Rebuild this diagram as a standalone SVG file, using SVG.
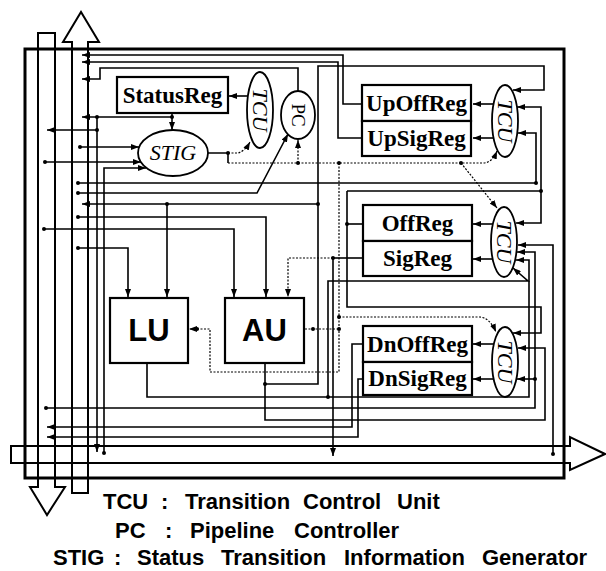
<svg xmlns="http://www.w3.org/2000/svg" width="606" height="571" viewBox="0 0 606 571">
<defs>
<marker id="ah" viewBox="0 0 8 6" refX="8" refY="3" markerWidth="8" markerHeight="6" markerUnits="userSpaceOnUse" orient="auto"><path d="M0,0 L8,3 L0,6 z" fill="#000"/></marker>
</defs>
<style>
.box{fill:#fff;stroke:#000;stroke-width:2.2}
.ell{fill:#fff;stroke:#000;stroke-width:1.8}
.ln{fill:none;stroke:#000;stroke-width:1.6}
.dt{fill:none;stroke:#000;stroke-width:1.2;stroke-dasharray:2 1.5}
.bus{fill:none;stroke:#000;stroke-width:2}
.frame{fill:none;stroke:#000;stroke-width:3}
.d{fill:#000}
.reg{font-family:"Liberation Serif",serif;font-weight:bold;font-size:23px;text-anchor:middle}
.it{font-family:"Liberation Serif",serif;font-style:italic;font-size:22px;text-anchor:middle}
.pc{font-family:"Liberation Serif",serif;font-size:19px;text-anchor:middle}
.unit{font-family:"Liberation Sans",Arial,sans-serif;font-weight:bold;font-size:31px;text-anchor:middle}
.lg{font-family:"Liberation Sans",Arial,sans-serif;font-weight:bold;font-size:22px}
</style>

<rect class="frame" x="25" y="49" width="539" height="429"/>

<g id="buses">
<path class="bus" d="M38,487 V33 H55 V487 H65 L47,515 L30,487 Z"/>
<path class="bus" d="M72,493 V42 H63 L81,12 L99,42 H88 V493 Z"/>
<path class="bus" d="M11,446 H570 V437 L605,454 L570,470 V463 H11 Z"/>
</g>

<g id="connectors">
<path class="ln" d="M362,104 H343 V55 H82" marker-end="url(#ah)"/>
<path class="ln" d="M362,138 H338 V62 H82" marker-end="url(#ah)"/>
<path class="ln" d="M298,91 V68 H100 V79 H82" marker-end="url(#ah)"/>
<path class="ln" d="M172,113 V117 H82" marker-end="url(#ah)"/>
<path class="ln" d="M172,117 V130" marker-end="url(#ah)"/>
<path class="ln" d="M97,117 V452" marker-end="url(#ah)"/>
<path class="ln" d="M97,130 H47" marker-end="url(#ah)"/>
<path class="ln" d="M80,147 H139" marker-end="url(#ah)"/>
<path class="ln" d="M45,162 H141" marker-end="url(#ah)"/>
<path class="ln" d="M104,453 V168 H146" marker-end="url(#ah)"/>
<path class="ln" d="M248,96 H229" marker-end="url(#ah)"/>
<path class="ln" d="M208,153 H228 V163"/>
<path class="dt" d="M228,153 H238 Q245,151 250,142" marker-end="url(#ah)"/>
<path class="dt" d="M228,163 H483 Q492,163 497,151" marker-end="url(#ah)"/>
<path class="dt" d="M298,163 V140" marker-end="url(#ah)"/>
<path class="dt" d="M461,163 L497,208" marker-end="url(#ah)"/>
<path class="ln" d="M78,193 H257 L288,134" marker-end="url(#ah)"/>
<path class="ln" d="M78,183 H536 V133 H518" marker-end="url(#ah)"/>
<path class="ln" d="M265,363 V420 H545 V348 H518" marker-end="url(#ah)"/>
<path class="ln" d="M265,384 H318 V66 H544 V90 H513" marker-end="url(#ah)"/>
<path class="ln" d="M318,204 H82" marker-end="url(#ah)"/>
<path class="ln" d="M167,204 V297" marker-end="url(#ah)"/>
<path class="ln" d="M78,217 H266 V297" marker-end="url(#ah)"/>
<path class="ln" d="M44,229 H234 V297" marker-end="url(#ah)"/>
<path class="ln" d="M78,248 H128 V297" marker-end="url(#ah)"/>
<path class="ln" d="M363,258 H333"/>
<path class="dt" d="M333,258 H288 V297" marker-end="url(#ah)"/>
<path class="ln" d="M333,258 V456" marker-end="url(#ah)"/>
<path class="ln" d="M363,224 H347"/>
<path class="ln" d="M347,191 V307 H541 V333 H513" marker-end="url(#ah)"/>
<path class="ln" d="M347,191 H541 V107 H517" marker-end="url(#ah)"/>
<path class="ln" d="M541,191 V223 H516" marker-end="url(#ah)"/>
<path class="ln" d="M553,454 V245 H518" marker-end="url(#ah)"/>
<path class="ln" d="M46,408 H535 V252 H517" marker-end="url(#ah)"/>
<path class="ln" d="M535,379 H517" marker-end="url(#ah)"/>
<path class="ln" d="M147,363 V397 H529 V260 H516" marker-end="url(#ah)"/>
<path class="ln" d="M328,397 V281 H528 L513,268" marker-end="url(#ah)"/>
<path class="dt" d="M339,163 V372 H210 V329 H189" marker-end="url(#ah)"/>
<path class="dt" d="M305,329 H339"/>
<path class="dt" d="M339,317 H480 Q490,318 496,332" marker-end="url(#ah)"/>
<path class="ln" d="M363,344 H352 V427 H47" marker-end="url(#ah)"/>
<path class="ln" d="M363,379 H358 V437 H47" marker-end="url(#ah)"/>
<path class="ln" d="M494,104 H473" marker-end="url(#ah)"/>
<path class="ln" d="M494,138 H473" marker-end="url(#ah)"/>
<path class="ln" d="M493,224 H473" marker-end="url(#ah)"/>
<path class="ln" d="M493,259 H473" marker-end="url(#ah)"/>
<path class="ln" d="M494,344 H473" marker-end="url(#ah)"/>
<path class="ln" d="M494,379 H473" marker-end="url(#ah)"/>
<g class="d">
<circle cx="172" cy="117" r="2"/><circle cx="97" cy="117" r="2"/><circle cx="97" cy="130" r="2"/>
<circle cx="80" cy="147" r="2"/><circle cx="45" cy="162" r="2"/><circle cx="104" cy="453" r="2"/>
<circle cx="235" cy="96" r="2"/><circle cx="228" cy="153" r="2"/><circle cx="298" cy="163" r="2"/>
<circle cx="339" cy="163" r="2"/><circle cx="461" cy="163" r="2"/><circle cx="78" cy="193" r="2"/>
<circle cx="78" cy="183" r="2"/><circle cx="536" cy="183" r="2"/><circle cx="265" cy="384" r="2"/>
<circle cx="318" cy="204" r="2"/><circle cx="167" cy="204" r="2"/><circle cx="78" cy="217" r="2"/>
<circle cx="44" cy="229" r="2"/><circle cx="78" cy="248" r="2"/><circle cx="333" cy="258" r="2"/>
<circle cx="347" cy="224" r="2"/><circle cx="541" cy="191" r="2"/><circle cx="553" cy="454" r="2"/>
<circle cx="46" cy="408" r="2"/><circle cx="535" cy="379" r="2"/><circle cx="328" cy="397" r="2"/>
<circle cx="339" cy="317" r="2"/><circle cx="339" cy="329" r="2"/><circle cx="313" cy="329" r="2"/>
<circle cx="197" cy="329" r="2"/>
</g>
</g>

<g id="StatusReg"><rect class="box" x="117" y="77" width="111" height="36"/><text class="reg" x="172.5" y="103">StatusReg</text></g>
<g id="TCU1"><ellipse class="ell" cx="260" cy="110" rx="13" ry="38"/><text class="it" transform="translate(260,110) rotate(90)" y="7">TCU</text></g>
<g id="PC"><ellipse class="ell" cx="298" cy="115" rx="17" ry="24"/><text class="pc" transform="translate(298,115) rotate(90)" y="6">PC</text></g>
<g id="STIG"><ellipse class="ell" cx="173" cy="153" rx="35" ry="23"/><text class="it" x="173" y="160">STIG</text></g>
<g id="UpOffReg"><rect class="box" x="362" y="85" width="109" height="36"/><text class="reg" x="416.5" y="111">UpOffReg</text></g>
<g id="UpSigReg"><rect class="box" x="362" y="121" width="109" height="35"/><text class="reg" x="416.5" y="146">UpSigReg</text></g>
<g id="TCU2"><ellipse class="ell" cx="505" cy="121" rx="13" ry="36"/><text class="it" transform="translate(505,121) rotate(90)" y="7">TCU</text></g>
<g id="OffReg"><rect class="box" x="363" y="205" width="109" height="36"/><text class="reg" x="417.5" y="231">OffReg</text></g>
<g id="SigReg"><rect class="box" x="363" y="241" width="109" height="35"/><text class="reg" x="417.5" y="266">SigReg</text></g>
<g id="TCU3"><ellipse class="ell" cx="504" cy="242" rx="13" ry="35"/><text class="it" transform="translate(504,242) rotate(90)" y="7">TCU</text></g>
<g id="DnOffReg"><rect class="box" x="363" y="326" width="109" height="36"/><text class="reg" x="417.5" y="352">DnOffReg</text></g>
<g id="DnSigReg"><rect class="box" x="363" y="362" width="109" height="33"/><text class="reg" x="417.5" y="386">DnSigReg</text></g>
<g id="TCU4"><ellipse class="ell" cx="505" cy="362" rx="13" ry="35"/><text class="it" transform="translate(505,362) rotate(90)" y="7">TCU</text></g>
<g id="LU"><rect class="box" x="110" y="298" width="78" height="65"/><text class="unit" x="149" y="341">LU</text></g>
<g id="AU"><rect class="box" x="225" y="298" width="79" height="65"/><text class="unit" x="264.5" y="341">AU</text></g>

<g id="legend">
<text class="lg" x="103" y="509">TCU</text><text class="lg" x="161" y="509">:</text><text class="lg" x="185" y="509">Transition</text><text class="lg" x="303" y="509">Control</text><text class="lg" x="397" y="509">Unit</text>
<text class="lg" x="115" y="538">PC</text><text class="lg" x="165" y="538">:</text><text class="lg" x="190" y="538">Pipeline</text><text class="lg" x="294" y="538">Controller</text>
<text class="lg" x="53" y="565">STIG</text><text class="lg" x="114" y="565">:</text><text class="lg" x="137" y="565">Status</text><text class="lg" x="221" y="565">Transition</text><text class="lg" x="344" y="565">Information</text><text class="lg" x="482" y="565">Generator</text>
</g>
</svg>
